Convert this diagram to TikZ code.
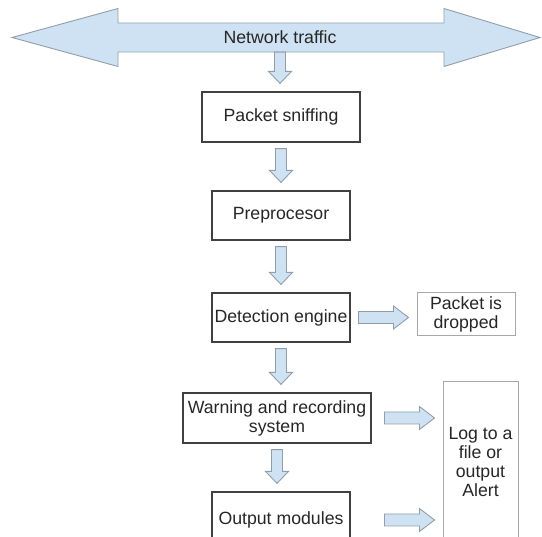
\documentclass[tikz,border=0pt]{standalone}
\usepackage{fontspec}
\setmainfont{Liberation Sans}
\usetikzlibrary{calc}

\definecolor{flowfill}{RGB}{207,226,243}
\definecolor{flowline}{RGB}{145,158,170}
\definecolor{boxline}{RGB}{64,64,64}
\definecolor{softline}{RGB}{168,168,168}

% fat arrow pointing down, from node #2 to node #3 (#1 = gap at the tail)
\newcommand{\flowdown}[3][6pt]{%
  \draw[flow] let \p1=(#2.south), \p2=(#3.north) in
    (\x1-5.5pt,\y1-#1) -- (\x1+5.5pt,\y1-#1) -- (\x1+5.5pt,\y2+20pt)
    -- (\x1+11.5pt,\y2+20pt) -- (\x1,\y2+8pt) -- (\x1-11.5pt,\y2+20pt)
    -- (\x1-5.5pt,\y2+20pt) -- cycle;}

% fat arrow pointing right, ends just before node #2
\newcommand{\flowright}[2]{%
  \draw[flow] let \p1=(#1.east), \p2=(#2.west) in
    (\x2-58pt,\y1-6pt) -- (\x2-23pt,\y1-6pt) -- (\x2-23pt,\y1-11.5pt)
    -- (\x2-8pt,\y1) -- (\x2-23pt,\y1+11.5pt) -- (\x2-23pt,\y1+6pt)
    -- (\x2-58pt,\y1+6pt) -- cycle;}

\begin{document}
\begin{tikzpicture}[x=1pt, y=-1pt]
    \tikzstyle{state}=[rectangle, inner sep=0pt, align=center, text=black!85, font=\fontsize{17.7}{19}\selectfont];
    \tikzstyle{flow}=[draw=flowline, fill=flowfill, line width=0.9pt, line join=miter];

    \clip (0, 0) rectangle (542, 537);

    % network traffic
    \draw[flow] (12, 37.5) -- (118, 8.5) -- (118, 23) -- (444, 23) -- (444, 8.5)
        -- (540, 37.5) -- (444, 66.5) -- (444, 52) -- (118, 52) -- (118, 66.5) -- cycle;
    \node[minimum height=29] (net) at (280, 37.5) [state] {Network traffic};

    \node[draw=boxline, line width=1.2pt, minimum width=158, minimum height=50] (sniff) at (281, 117) [state] 
    {Packet sniffing};
    \node[draw=boxline, line width=1.2pt, minimum width=138, minimum height=49] (prep) at (281, 215.5) [state] 
    {Preprocesor};
    \node[draw=boxline, line width=1.2pt, minimum width=138, minimum height=49] (det) at (281, 317.5) [state] 
    {Detection engine};
    \node[draw=softline, line width=1pt, minimum width=98, minimum height=43] (pid) at (466, 314.5) [state] 
    {Packet is\\dropped};
    \node[draw=boxline, line width=1.2pt, minimum width=188, minimum height=50] (warn) at (277, 418) [state] 
    {Warning and recording\\system};
    \node[draw=boxline, line width=1.2pt, minimum width=138, minimum height=56] (out) at (281, 520) [state] 
    {Output modules};
    \node[draw=softline, line width=1pt, minimum width=75, minimum height=160] (log) at (480.5, 462) [state] 
    {Log to a\\file or\\output\\Alert};

    \flowdown[0pt]{net}{sniff}
    \flowdown{sniff}{prep}
    \flowdown{prep}{det}
    \flowdown{det}{warn}
    \flowdown{warn}{out}
    \flowright{det}{pid}
    \flowright{warn}{log}
    \flowright{out}{log}

\end{tikzpicture}
\end{document}
